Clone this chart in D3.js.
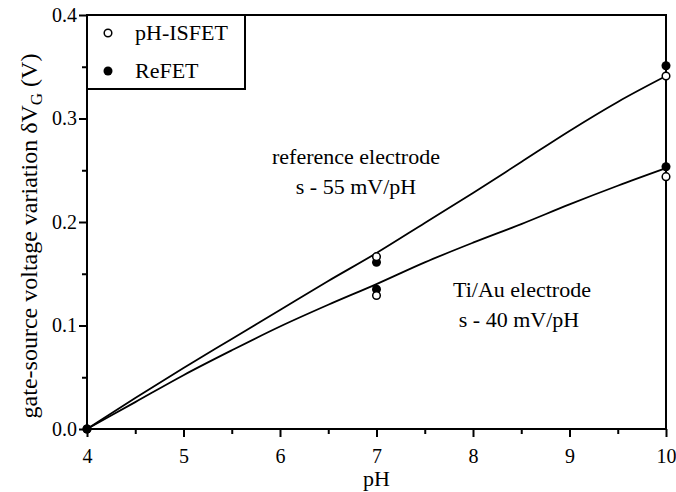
<!DOCTYPE html>
<html>
<head>
<meta charset="utf-8">
<script src="https://cdn.jsdelivr.net/npm/d3@7"></script>
<style>
    body { margin: 0; background: white; }
    text { font-family: "Liberation Serif", "Times New Roman", serif; fill: black; }
</style>
</head>
<body>
<script>
// curve samples (pH, dVG in V)
const phSamples = [4, 4.5, 5, 5.5, 6, 6.5, 7, 7.5, 8, 8.5, 9, 9.5, 10];
const refCurve = [0, 0.030, 0.059, 0.087, 0.115, 0.143, 0.170, 0.199, 0.228, 0.258, 0.288, 0.316, 0.341];
const tiauCurve = [0, 0.026, 0.052, 0.076, 0.099, 0.120, 0.140, 0.161, 0.180, 0.198, 0.217, 0.235, 0.252];

// measured points
const pointPH = [4, 7, 10];
const isfetRef = [0, 0.1665, 0.341];
const isfetTiAu = [0, 0.129, 0.2438];
const refetRef = [0, 0.161, 0.351];
const refetTiAu = [0, 0.135, 0.2534];

const xTicks = [4, 5, 6, 7, 8, 9, 10];
const yTicks = [0, 0.1, 0.2, 0.3, 0.4];

window.onload = function () {
    let vis = {};
    vis.width = 676;
    vis.height = 492;
    vis.margin = ({top: 15, right: 10, bottom: 63, left: 87});

    vis.svg = d3.select('body')
        .append("svg")
        .attr("width", vis.width)
        .attr("height", vis.height);

    vis.x = d3.scaleLinear()
        .domain([4, 10])
        .range([vis.margin.left, vis.width - vis.margin.right]);

    vis.y = d3.scaleLinear()
        .domain([0, 0.4])
        .range([vis.height - vis.margin.bottom, vis.margin.top]);

    const x0 = vis.x(4), x1 = vis.x(10), y0 = vis.y(0), y1 = vis.y(0.4);

    // frame
    vis.svg.append("rect")
        .attr("x", x0).attr("y", y1)
        .attr("width", x1 - x0).attr("height", y0 - y1)
        .attr("fill", "none")
        .attr("stroke", "black")
        .attr("stroke-width", 2);

    // minor ticks
    vis.svg.append("g")
        .attr("transform", `translate(0,${y0})`)
        .call(d3.axisBottom(vis.x).tickValues(d3.range(4.5, 10, 1)).tickSize(5).tickFormat(""))
        .call(g => g.select(".domain").remove())
        .selectAll("line").attr("stroke-width", 2);

    vis.svg.append("g")
        .attr("transform", `translate(${x0},0)`)
        .call(d3.axisLeft(vis.y).tickValues(d3.range(0.05, 0.4, 0.1)).tickSize(5).tickFormat(""))
        .call(g => g.select(".domain").remove())
        .selectAll("line").attr("stroke-width", 2);

    // major ticks + labels
    vis.svg.append("g")
        .attr("transform", `translate(0,${y0})`)
        .call(d3.axisBottom(vis.x).tickValues(xTicks).tickSize(8).tickPadding(12).tickFormat(d3.format("d")))
        .call(g => g.select(".domain").remove())
        .call(g => g.selectAll("line").attr("stroke-width", 2))
        .call(g => g.selectAll("text").attr("font-size", 20).attr("font-family", "Liberation Serif"));

    vis.svg.append("g")
        .attr("transform", `translate(${x0},0)`)
        .call(d3.axisLeft(vis.y).tickValues(yTicks).tickSize(8).tickPadding(2).tickFormat(d3.format(".1f")))
        .call(g => g.select(".domain").remove())
        .call(g => g.selectAll("line").attr("stroke-width", 2))
        .call(g => g.selectAll("text").attr("font-size", 20).attr("font-family", "Liberation Serif"));

    // axis titles
    vis.svg.append("text")
        .attr("x", (x0 + x1) / 2)
        .attr("y", 486)
        .attr("text-anchor", "middle")
        .attr("font-size", 22)
        .text("pH");

    let yt = vis.svg.append("text")
        .attr("transform", `translate(37,236) rotate(-90)`)
        .attr("text-anchor", "middle")
        .attr("font-size", 24);
    yt.append("tspan").text("gate-source voltage variation δV");
    yt.append("tspan").attr("font-size", 17).attr("dy", 5).text("G");
    yt.append("tspan").attr("dy", -5).text(" (V)");

    // curves
    let line = d3.line()
        .x((d, i) => vis.x(phSamples[i]))
        .y(d => vis.y(d))
        .curve(d3.curveMonotoneX);

    [refCurve, tiauCurve].forEach(c => {
        vis.svg.append("path")
            .attr("fill", "none")
            .attr("stroke", "black")
            .attr("stroke-width", 1.8)
            .attr("d", line(c));
    });

    // points
    [refetRef, refetTiAu].forEach(s => {
        vis.svg.append("g").selectAll("circle")
            .data(s)
            .join("circle")
            .attr("cx", (d, i) => vis.x(pointPH[i]))
            .attr("cy", d => vis.y(d))
            .attr("r", 4.5)
            .attr("fill", "black");
    });
    [isfetRef, isfetTiAu].forEach(s => {
        vis.svg.append("g").selectAll("circle")
            .data(s.slice(1))
            .join("circle")
            .attr("cx", (d, i) => vis.x(pointPH[i + 1]))
            .attr("cy", d => vis.y(d))
            .attr("r", 3.8)
            .attr("fill", "white")
            .attr("stroke", "black")
            .attr("stroke-width", 1.5);
    });

    // annotations
    const notes = [
        {x: 356, y: 164, t: "reference electrode"},
        {x: 356, y: 194, t: "s - 55 mV/pH"},
        {x: 522, y: 297, t: "Ti/Au electrode"},
        {x: 519, y: 327, t: "s - 40 mV/pH"}
    ];
    vis.svg.append("g").selectAll("text")
        .data(notes)
        .join("text")
        .attr("x", d => d.x)
        .attr("y", d => d.y)
        .attr("text-anchor", "middle")
        .attr("font-size", 22)
        .text(d => d.t);

    // legend
    let legend = vis.svg.append("g");
    legend.append("rect")
        .attr("x", x0).attr("y", y1)
        .attr("width", 158).attr("height", 74)
        .attr("fill", "white")
        .attr("stroke", "black")
        .attr("stroke-width", 2);
    legend.append("circle")
        .attr("cx", 108).attr("cy", 33).attr("r", 3.8)
        .attr("fill", "white").attr("stroke", "black").attr("stroke-width", 1.5);
    legend.append("circle")
        .attr("cx", 108).attr("cy", 71).attr("r", 4.5)
        .attr("fill", "black");
    legend.append("text").attr("x", 135).attr("y", 40).attr("font-size", 22).text("pH-ISFET");
    legend.append("text").attr("x", 135).attr("y", 78).attr("font-size", 22).text("ReFET");
}
</script>
</body>
</html>
